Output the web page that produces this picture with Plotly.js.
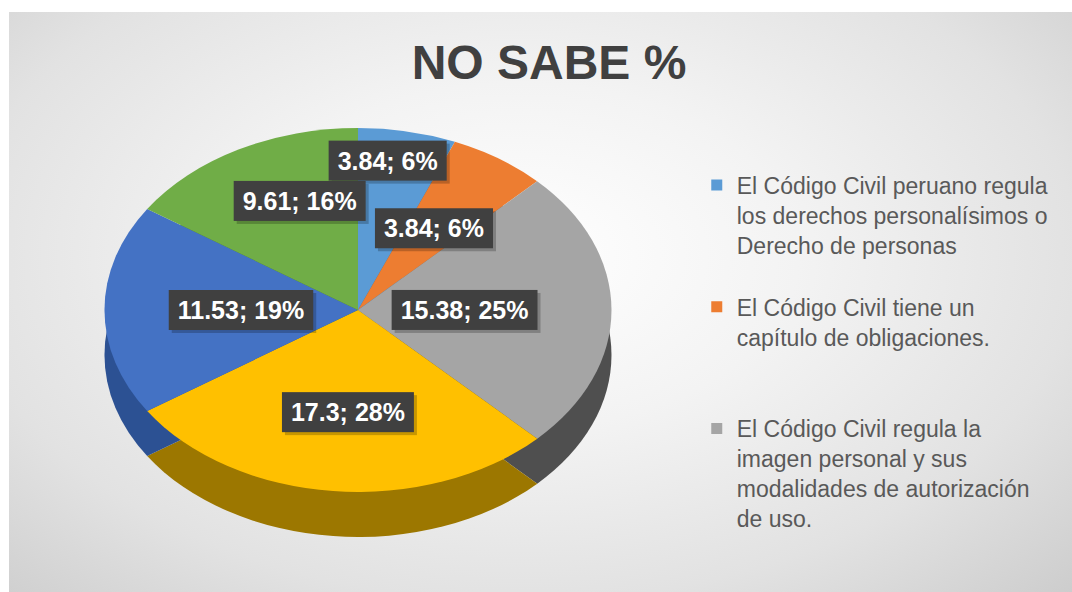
<!DOCTYPE html>
<html>
<head>
<meta charset="utf-8">
<script src="https://cdn.plot.ly/plotly-3.0.1.min.js"></script>
<style>
  html, body { margin: 0; padding: 0; background: #ffffff; width: 1072px; height: 592px; overflow: hidden; }
  #frame {
    position: absolute; left: 9px; top: 12px; width: 1063px; height: 580px;
    background: radial-gradient(ellipse 75% 85% at 48% 42%, #ffffff 0%, #f3f3f3 35%, #e2e2e2 70%, #cbcbcb 100%);
  }
  #chart { position: absolute; left: 0; top: 0; width: 1063px; height: 580px; }
</style>
</head>
<body>
<div id="frame"><div id="chart"></div></div>
<script>
// ---- data ----
const categories = [
  "El Código Civil peruano regula los derechos personalísimos o Derecho de personas",
  "El Código Civil tiene un capítulo de obligaciones.",
  "El Código Civil regula la imagen personal y sus modalidades de autorización de uso.",
  "Afirmación 4",
  "Afirmación 5",
  "Afirmación 6"
];
const legendLabels = [
  "El Código Civil peruano regula<br>los derechos personalísimos o<br>Derecho de personas",
  "El Código Civil tiene un<br>capítulo de obligaciones.<br> ",
  "El Código Civil regula la<br>imagen personal y sus<br>modalidades de autorización<br>de uso."
];
const values = [3.84, 3.84, 15.38, 17.3, 11.53, 9.61];
const colors = ["#5B9BD5", "#ED7D31", "#A5A5A5", "#FFC000", "#4472C4", "#70AD47"];
const sideColors = ["#3a6d9c", "#a8561f", "#4f4f4f", "#9c7700", "#2c5193", "#4a7a2e"];

const FONT = "'Liberation Sans', Arial, Helvetica, sans-serif";
const XSTRETCH = 1.393; // perspective look: top face is an ellipse wider than tall

// side (depth) of the 3D-looking pie
const depthTrace = {
  type: "pie",
  labels: categories, values: values, sort: false, direction: "clockwise", rotation: 0,
  marker: { colors: sideColors, line: { width: 0 } },
  textinfo: "none", hoverinfo: "skip", showlegend: false,
  domain: { x: [0.1571, 0.4995], y: [0.0948, 0.7224] }
};

const pieTrace = {
  type: "pie",
  labels: categories, values: values, sort: false, direction: "clockwise", rotation: 0,
  marker: { colors: colors, line: { width: 0 } },
  texttemplate: "%{value}; %{percent:.0%}",
  textposition: "inside",
  insidetextorientation: "horizontal",
  textfont: { family: FONT, size: 25, color: "#ffffff", weight: "bold" },
  hoverinfo: "skip", showlegend: false,
  domain: { x: [0.1571, 0.4995], y: [0.1724, 0.80] }
};

const legendTraces = legendLabels.map((name, i) => ({
  type: "scatter", mode: "markers", x: [null], y: [null],
  name: name, legendgroup: "g" + i,
  marker: { symbol: "square", size: 11, color: colors[i] },
  hoverinfo: "skip"
}));

const layout = {
  width: 1063, height: 580,
  margin: { l: 0, r: 0, t: 0, b: 0 },
  paper_bgcolor: "rgba(0,0,0,0)", plot_bgcolor: "rgba(0,0,0,0)",
  font: { family: FONT, color: "#595959" },
  title: {
    text: "<b>NO SABE %</b>",
    font: { family: FONT, size: 48, color: "#404040" },
    x: 0.508, xanchor: "center", y: 0.914, yanchor: "middle", xref: "container", yref: "container"
  },
  xaxis: { visible: false, domain: [0.9, 0.95] },
  yaxis: { visible: false, domain: [0.9, 0.95] },
  showlegend: true,
  legend: {
    x: 0.647, xanchor: "left", y: 0.7385, yanchor: "top",
    font: { family: FONT, size: 23, color: "#595959" },
    bgcolor: "rgba(0,0,0,0)", borderwidth: 0,
    tracegroupgap: 29, valign: "top", traceorder: "grouped",
    itemclick: false, itemdoubleclick: false
  },
  uniformtext: { mode: "show", minsize: 25 }
};

const gd = document.getElementById("chart");
Plotly.newPlot(gd, [depthTrace, pieTrace].concat(legendTraces), layout, { displayModeBar: false, staticPlot: true })
.then(() => {
  const ns = "http://www.w3.org/2000/svg";
  const traces = gd.querySelectorAll(".pielayer .trace");
  const svgRect = gd.querySelector(".main-svg").getBoundingClientRect();
  traces.forEach((tr, ti) => {
    const cd0 = gd.calcdata[ti][0];
    const cx = cd0.cx;
    // stretch slices horizontally around the pie centre
    tr.querySelectorAll("path.surface").forEach(p => {
      p.setAttribute("transform", `matrix(${XSTRETCH},0,0,1,${cx * (1 - XSTRETCH)},0)`);
    });
    if (ti !== traces.length - 1) return;
    const pts = gd.calcdata[ti];
    const labelLayer = document.createElementNS(ns, "g");
    labelLayer.setAttribute("class", "labellayer-top");
    tr.appendChild(labelLayer);
    tr.querySelectorAll("g.slice").forEach((sg, si) => {
      const g = sg.querySelector("g.slicetext");
      if (!g) return;
      const t = g.querySelector("text");
      if (!t) return;
      labelLayer.appendChild(g);
      const br = t.getBoundingClientRect();
      const curX = br.left + br.width / 2 - svgRect.left;
      const curY = br.top + br.height / 2 - svgRect.top;
      let tx = curX, ty = curY;
      // second (small) slice: keep its label nearer the centre so it doesn't collide
      const pt = pts[si];
      if (pt && si === 1) {
        tx = cx + XSTRETCH * pt.pxmid[0] * 0.54;
        ty = cd0.cy + pt.pxmid[1] * 0.54;
      }
      g.setAttribute("transform", `translate(${tx - curX},${ty - curY})`);
      const bb = t.getBBox();
      const trs = t.getAttribute("transform") || "";
      const padX = 9, padY = 6;
      const sh = document.createElementNS(ns, "rect");
      sh.setAttribute("x", bb.x - padX + 3); sh.setAttribute("y", bb.y - padY + 3);
      sh.setAttribute("width", bb.width + 2 * padX); sh.setAttribute("height", bb.height + 2 * padY);
      sh.setAttribute("fill", "rgba(0,0,0,0.22)");
      sh.setAttribute("transform", trs);
      const rc = document.createElementNS(ns, "rect");
      rc.setAttribute("x", bb.x - padX); rc.setAttribute("y", bb.y - padY);
      rc.setAttribute("width", bb.width + 2 * padX); rc.setAttribute("height", bb.height + 2 * padY);
      rc.setAttribute("fill", "#404040");
      rc.setAttribute("transform", trs);
      g.insertBefore(sh, t);
      g.insertBefore(rc, t);
    });
  });
});
</script>
</body>
</html>
